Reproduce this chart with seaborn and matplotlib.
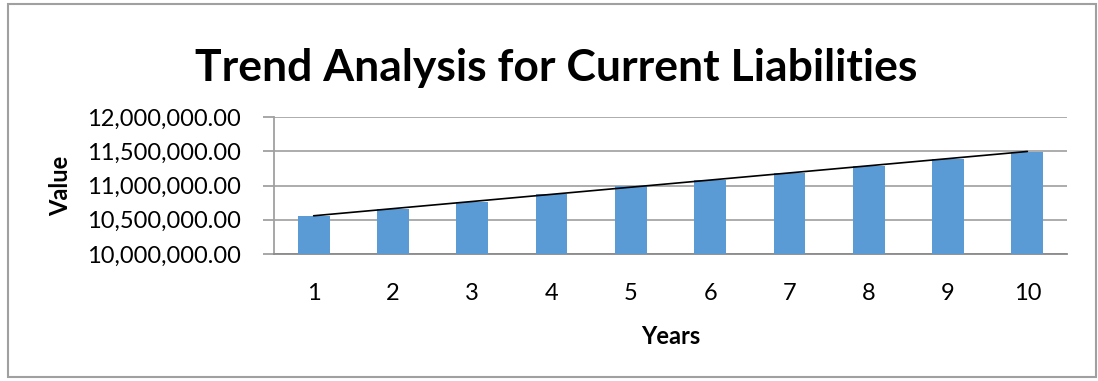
import matplotlib
matplotlib.use("Agg")
import matplotlib.pyplot as plt
import seaborn as sns
import numpy as np
import pandas as pd
from matplotlib.patches import Rectangle
from matplotlib.ticker import FuncFormatter

years = [1, 2, 3, 4, 5, 6, 7, 8, 9, 10]
values = [10556000, 10658000, 10765000, 10877000, 10990000,
          11085000, 11189000, 11291000, 11389000, 11497000]
y_ticks = [10000000, 10500000, 11000000, 11500000, 12000000]

title = "Trend Analysis for Current Liabilities"
x_label = "Years"
y_label = "Value"

sns.set_theme(style="white")
plt.rcParams['font.family'] = ['Lato', 'DejaVu Sans']

df = pd.DataFrame({"Years": [str(y) for y in years], "Value": values})

fig = plt.figure(figsize=(10.98, 3.81), dpi=100)
ax = fig.add_axes([274/1098, 1 - 254/381, (1067 - 274)/1098, (254 - 117.3)/381])

sns.barplot(data=df, x="Years", y="Value", color="#5B9BD5", width=0.4,
            saturation=1, ax=ax, zorder=3, linewidth=0, edgecolor="none")

# linear trendline
pos = np.arange(len(years))
coef = np.polyfit(pos, values, 1)
trend = np.polyval(coef, pos)
sns.lineplot(x=pos, y=trend, color="black", linewidth=1.2, ax=ax, zorder=4)

ax.set_ylim(y_ticks[0], y_ticks[-1])
ax.set_xlim(-0.5, len(years) - 0.5)
ax.set_yticks(y_ticks)
ax.yaxis.set_major_formatter(FuncFormatter(lambda v, p: f"{v:,.2f}"))
ax.grid(axis="y", color="#a6a6a6", linewidth=1.3, zorder=0)
ax.set_axisbelow(True)

for s in ["top", "right"]:
    ax.spines[s].set_visible(False)
ax.spines["left"].set_color("#a0a0a0")
ax.spines["left"].set_linewidth(1.3)
ax.spines["bottom"].set_color("#8a8a8a")
ax.spines["bottom"].set_linewidth(1.3)

ax.tick_params(axis="y", which="major", left=True, length=8, width=1.3,
               color="#a0a0a0", pad=16, labelsize=17, labelcolor="black")
ax.tick_params(axis="x", which="major", bottom=False, length=0, pad=21,
               labelsize=17, labelcolor="black")

ax.set_xlabel(x_label, fontsize=17, fontweight="bold", color="black")
ax.set_ylabel(y_label, fontsize=17, fontweight="bold", color="black")
ax.xaxis.set_label_coords(0.5, -0.52)
ax.yaxis.set_label_coords(-0.2547, 0.5)

fig.text(556/1098, 1 - 81/381, title, ha="center", va="baseline",
         fontsize=32, fontweight="bold", color="black")

fig.patches.append(Rectangle((8/1098, 4/381), (1096 - 8)/1098, (377 - 4)/381,
                             transform=fig.transFigure, fill=False,
                             edgecolor="#a0a0a0", linewidth=1.5))

fig.savefig("out.png", dpi=100)
